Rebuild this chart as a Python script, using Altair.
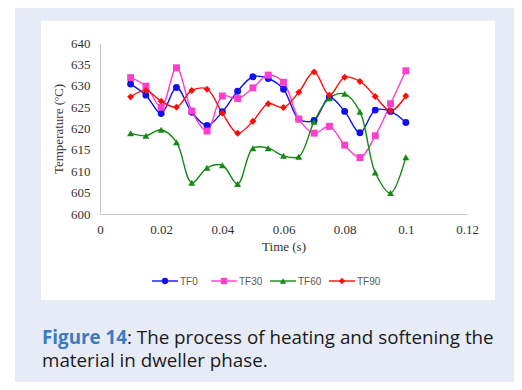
import altair as alt
import pandas as pd

# ---- data ----
time_s = [0.01, 0.015, 0.02, 0.025, 0.03, 0.035, 0.04, 0.045, 0.05, 0.055,
          0.06, 0.065, 0.07, 0.075, 0.08, 0.085, 0.09, 0.095, 0.1]
tf0 = [630.4, 627.8, 623.5, 629.6, 623.8, 620.7, 623.9, 628.7, 632.1, 631.7,
       629.2, 622.2, 621.9, 627.3, 624.0, 619.0, 624.3, 624.0, 621.4]
tf30 = [631.9, 629.9, 625.0, 634.2, 624.1, 619.4, 627.6, 627.0, 629.5, 632.5,
        630.8, 622.2, 618.9, 620.5, 616.1, 613.2, 618.3, 625.8, 633.5]
tf60 = [618.9, 618.3, 619.7, 616.8, 607.3, 610.8, 611.4, 607.0, 615.4, 615.4,
        613.6, 613.4, 621.6, 627.1, 628.1, 623.9, 609.7, 604.9, 613.3]
tf90 = [627.4, 628.9, 626.4, 625.0, 628.9, 629.2, 623.6, 618.9, 621.7, 625.8,
        624.9, 628.5, 633.2, 627.8, 632.0, 631.0, 627.5, 624.1, 627.6]

series = ["TF0", "TF30", "TF60", "TF90"]
colors = ["#1010ee", "#ff3fcc", "#128a12", "#ff0a0a"]
shapes = ["circle", "square", "triangle-up", "diamond"]
x_ticks = [0, 0.02, 0.04, 0.06, 0.08, 0.1, 0.12]
y_ticks = [600, 605, 610, 615, 620, 625, 630, 635, 640]

caption_bold = "Figure 14"
caption_rest1 = ": The process of heating and softening the"
caption_line2 = "material in dweller phase."

rows = []
for name, vals in zip(series, [tf0, tf30, tf60, tf90]):
    for t, v in zip(time_s, vals):
        rows.append({"time": t, "temp": v, "series": name})
df = pd.DataFrame(rows)
legend_df = pd.DataFrame({"series": series})

W, H = 367, 171
color_scale = alt.Scale(domain=series, range=colors)
shape_scale = alt.Scale(domain=series, range=shapes)

x_enc = alt.X("time:Q", scale=alt.Scale(domain=[0, 0.12], nice=False),
              axis=alt.Axis(values=x_ticks, format="~f", title="Time (s)",
                            grid=False, ticks=False, labelPadding=9, zindex=1,
                            labelFlush=False, labelOverlap=False,
                            titlePadding=4, domainColor="#c8c8c8"))
y_enc = alt.Y("temp:Q", scale=alt.Scale(domain=[600, 640], nice=False, zero=False),
              axis=alt.Axis(values=y_ticks, title="Temperature (ºC)", zindex=1,
                            grid=False, ticks=False, labelPadding=10,
                            labelFlush=False, labelOverlap=False,
                            titlePadding=5, domainColor="#c8c8c8"))

one = pd.DataFrame({"a": [0]})
bg_blue = alt.Chart(one).mark_rect(color="#e7ebf6").encode(
    x=alt.value(-85), x2=alt.value(414), y=alt.value(-35), y2=alt.value(339))
card = alt.Chart(one).mark_rect(color="#ffffff").encode(
    x=alt.value(-59), x2=alt.value(395), y=alt.value(-22), y2=alt.value(257))

lines = alt.Chart(df).mark_line(interpolate="catmull-rom", strokeWidth=1.4).encode(
    x=x_enc, y=y_enc,
    color=alt.Color("series:N", scale=color_scale, legend=None),
    detail="series:N")
points = alt.Chart(df).mark_point(filled=True, size=48, opacity=1).encode(
    x=x_enc, y=y_enc,
    color=alt.Color("series:N", scale=color_scale, legend=None),
    shape=alt.Shape("series:N", scale=shape_scale, legend=None))

main = alt.layer(bg_blue, card, lines, points)

leg_x = alt.X("series:N", scale=alt.Scale(type="point", domain=series,
                                          range=[65, 242], padding=0), axis=None)
leg_rule = alt.Chart(legend_df).mark_rule(strokeWidth=1.4, xOffset=-13, x2Offset=13).encode(
    x=leg_x, x2=alt.X2("series:N"), y=alt.value(238),
    color=alt.Color("series:N", scale=color_scale, legend=None))
leg_pt = alt.Chart(legend_df).mark_point(filled=True, size=40, opacity=1).encode(
    x=leg_x, y=alt.value(238),
    color=alt.Color("series:N", scale=color_scale, legend=None),
    shape=alt.Shape("series:N", scale=shape_scale, legend=None))
leg_txt = alt.Chart(legend_df).mark_text(align="left", baseline="middle", xOffset=15,
                                         font="Liberation Sans", fontSize=10,
                                         color="#595959").encode(
    x=leg_x, y=alt.value(238.5), text="series:N")
legend = alt.layer(leg_rule, leg_pt, leg_txt)

FS = 18.8
cap1 = alt.Chart(one).mark_text(align="left", baseline="alphabetic", font="Open Sans",
                                fontSize=FS, fontWeight="bold", color="#3a7bc4").encode(
    x=alt.value(-58), y=alt.value(300.5), text=alt.value(caption_bold))
cap2 = alt.Chart(one).mark_text(align="left", baseline="alphabetic", font="Open Sans",
                                fontSize=FS, color="#1a1a1a").encode(
    x=alt.value(27), y=alt.value(300.5), text=alt.value(caption_rest1))
cap3 = alt.Chart(one).mark_text(align="left", baseline="alphabetic", font="Open Sans",
                                fontSize=FS, color="#1a1a1a").encode(
    x=alt.value(-58), y=alt.value(323.8), text=alt.value(caption_line2))

chart = alt.layer(main, legend, cap1, cap2, cap3).resolve_scale(x="independent").properties(
    width=W, height=H,
    autosize=alt.AutoSizeParams(type="none"),
    padding={"left": 92, "top": 35, "right": 47, "bottom": 168},
    background="#ffffff",
).configure_view(stroke=None).configure_axis(
    labelFont="Liberation Serif", titleFont="Liberation Serif",
    labelFontSize=13, titleFontSize=13, labelColor="#333333",
    titleColor="#333333", titleFontWeight="normal")

chart.save("out.html", embed_options={"renderer": "svg", "actions": False})
